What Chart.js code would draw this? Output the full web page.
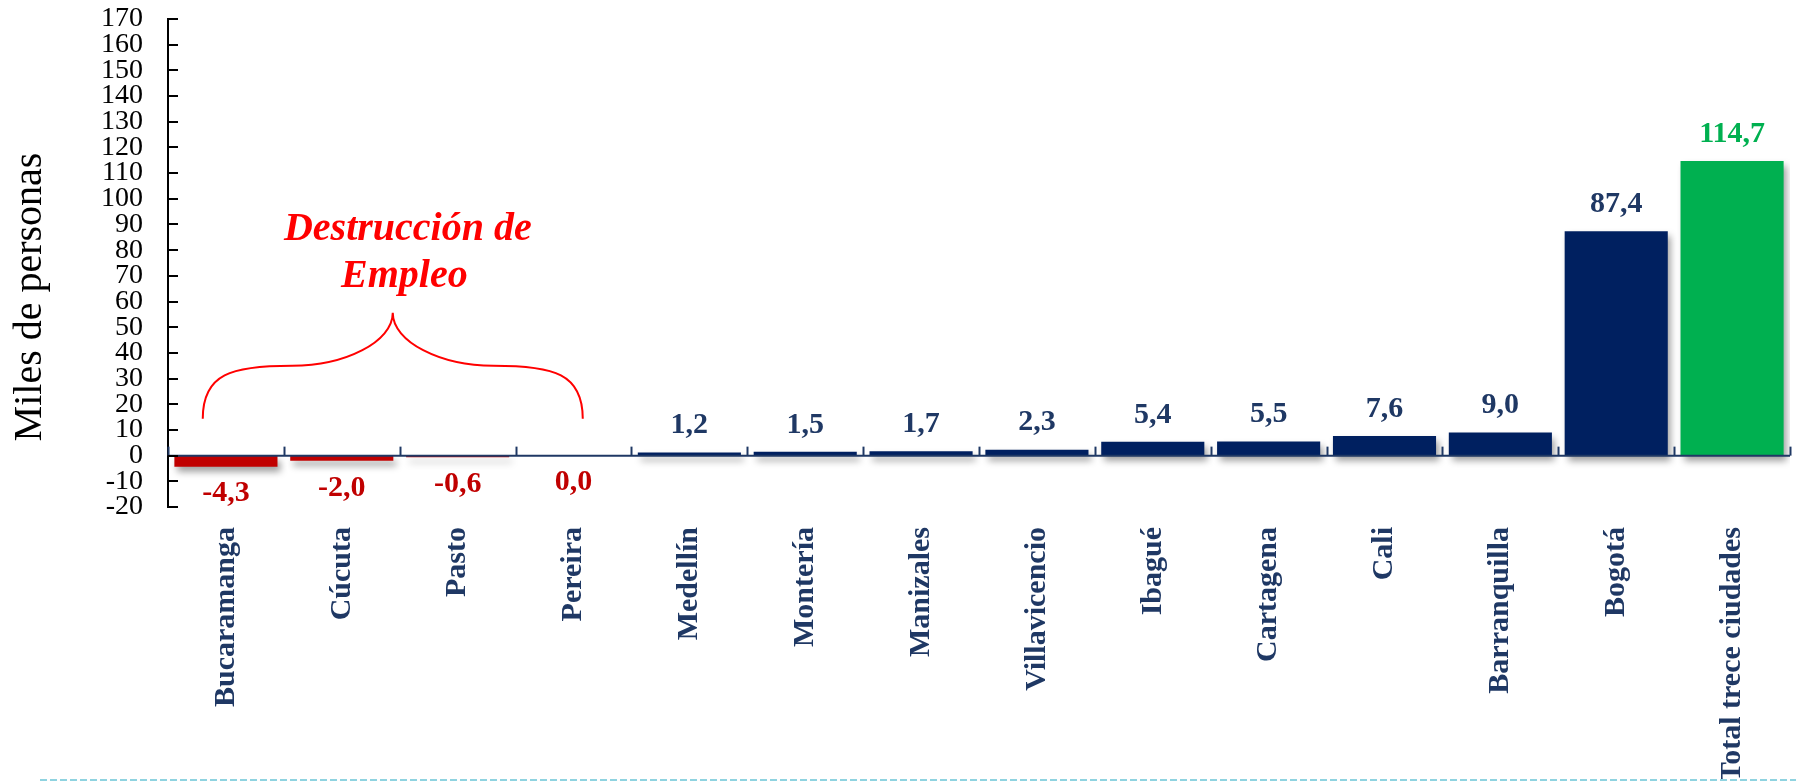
<!DOCTYPE html>
<html><head><meta charset="utf-8">
<script src="https://cdn.jsdelivr.net/npm/chart.js@4.4.1/dist/chart.umd.min.js"></script>
<style>html,body{margin:0;padding:0;background:#fff;overflow:hidden}</style>
</head><body>
<canvas id="c" width="1796" height="781"></canvas>
<script>
const categories = ['Bucaramanga','Cúcuta','Pasto','Pereira','Medellín','Montería','Manizales','Villavicencio','Ibagué','Cartagena','Cali','Barranquilla','Bogotá','Total trece ciudades'];
const values = [-4.3, -2.0, -0.6, 0.0, 1.2, 1.5, 1.7, 2.3, 5.4, 5.5, 7.6, 9.0, 87.4, 114.7];
const yTicks = [-20,-10,0,10,20,30,40,50,60,70,80,90,100,110,120,130,140,150,160,170];
const axisTitle = 'Miles de personas';
const annotationLines = ['Destrucción de', 'Empleo'];
const destructionFirst = 0, destructionLast = 3;

const NAVY = '#002060', NAVY_TXT = '#1F3864', RED = '#C00000', GREEN = '#00B050';
const SERIF = '"Liberation Serif", "Times New Roman", serif';
const isTotal = i => i === categories.length - 1;
const inDestruction = i => i >= destructionFirst && i <= destructionLast;
const barColor = i => isTotal(i) ? GREEN : (inDestruction(i) ? RED : NAVY);
const labelColor = i => isTotal(i) ? GREEN : (inDestruction(i) ? RED : NAVY_TXT);
const fmt = v => v.toFixed(1).replace('.', ',');

const deco = {
  id: 'deco',
  beforeDatasetsDraw(chart) {
    const ctx = chart.ctx;
    ctx.save();
    ctx.shadowColor = 'rgba(0,0,0,0.38)';
    ctx.shadowBlur = 7;
    ctx.shadowOffsetX = 3;
    ctx.shadowOffsetY = 5;
  },
  afterDatasetsDraw(chart) {
    const ctx = chart.ctx;
    ctx.restore();
    const xs = chart.scales.x, ys = chart.scales.y, ca = chart.chartArea;
    const catW = (ca.right - ca.left) / categories.length;
    const y0 = ys.getPixelForValue(0);

    ctx.save();
    ctx.strokeStyle = NAVY_TXT; ctx.lineWidth = 2;
    for (let i = 0; i <= categories.length; i++) {
      const x = Math.round(ca.left + i * catW) + 0.5;
      ctx.beginPath(); ctx.moveTo(x, y0); ctx.lineTo(x, y0 - 9); ctx.stroke();
    }
    ctx.beginPath(); ctx.moveTo(ca.left, y0); ctx.lineTo(ca.right, y0); ctx.stroke();

    ctx.strokeStyle = '#000'; ctx.lineWidth = 2;
    ys.ticks.forEach(t => {
      const y = Math.round(ys.getPixelForValue(t.value));
      ctx.beginPath(); ctx.moveTo(ca.left, y); ctx.lineTo(ca.left + 10, y); ctx.stroke();
    });

    const meta = chart.getDatasetMeta(0);
    ctx.font = 'bold 30px ' + SERIF;
    ctx.textAlign = 'center'; ctx.textBaseline = 'middle';
    meta.data.forEach((bar, i) => {
      const v = values[i];
      ctx.fillStyle = labelColor(i);
      const y = (v > 0) ? bar.y - 27 : Math.max(bar.y, y0) + 27;
      ctx.fillText(fmt(v), bar.x, y);
    });

    const xl = xs.getPixelForValue(destructionFirst) - 0.2 * catW;
    const xr = xs.getPixelForValue(destructionLast) + 0.08 * catW;
    const xm = (xl + xr) / 2, w = xm - xl;
    const yEnd = ys.getPixelForValue(14.4), yMid = ys.getPixelForValue(35), yPeak = ys.getPixelForValue(55.6);
    const h1 = yEnd - yMid, h2 = yMid - yPeak;
    ctx.strokeStyle = '#FF0000'; ctx.lineWidth = 2;
    ctx.beginPath();
    ctx.moveTo(xl, yEnd);
    ctx.bezierCurveTo(xl, yEnd - 0.85 * h1, xl + 0.15 * w, yMid, xl + 0.47 * w, yMid);
    ctx.bezierCurveTo(xl + 0.75 * w, yMid, xm, yMid - 0.45 * h2, xm, yPeak);
    ctx.bezierCurveTo(xm, yMid - 0.45 * h2, xr - 0.75 * w, yMid, xr - 0.47 * w, yMid);
    ctx.bezierCurveTo(xr - 0.15 * w, yMid, xr, yEnd - 0.85 * h1, xr, yEnd);
    ctx.stroke();

    ctx.fillStyle = '#FF0000';
    ctx.font = 'italic bold 40px ' + SERIF;
    ctx.fillText(annotationLines[0], xm + 0.13 * catW, ys.getPixelForValue(87.9));
    ctx.fillText(annotationLines[1], xm + 0.1 * catW, ys.getPixelForValue(69.6));

    ctx.fillStyle = '#000';
    ctx.font = '40px ' + SERIF;
    ctx.translate(30, (ca.top + ca.bottom) / 2 + 34);
    ctx.rotate(-Math.PI / 2);
    ctx.fillText(axisTitle, 0, 0);
    ctx.restore();
  },
  afterDraw(chart) {
    const ctx = chart.ctx;
    ctx.save();
    ctx.strokeStyle = '#8FD3E0'; ctx.lineWidth = 2; ctx.setLineDash([7, 3]);
    ctx.beginPath(); ctx.moveTo(40, chart.height - 1); ctx.lineTo(chart.width, chart.height - 1); ctx.stroke();
    ctx.restore();
  }
};

new Chart(document.getElementById('c'), {
  type: 'bar',
  data: {
    labels: categories,
    datasets: [{
      data: values,
      backgroundColor: values.map((v, i) => barColor(i)),
      barPercentage: 0.89,
      categoryPercentage: 1.0,
      borderWidth: 0
    }]
  },
  options: {
    responsive: false,
    animation: false,
    devicePixelRatio: 1,
    layout: { padding: { top: 19, right: 6, bottom: 0, left: 0 } },
    plugins: { legend: { display: false }, tooltip: { enabled: false } },
    scales: {
      x: {
        grid: { display: false },
        border: { display: false },
        ticks: {
          autoSkip: false, maxRotation: 90, minRotation: 90,
          padding: 12, labelOffset: 0,
          color: NAVY_TXT,
          font: { family: SERIF, size: 30, weight: 'bold' }
        },
        afterFit: s => { s.height = 274; }
      },
      y: {
        min: -20, max: 170,
        grid: { display: false },
        border: { display: true, color: '#000', width: 2 },
        ticks: {
          autoSkip: false, padding: 17, color: '#000',
          font: { family: SERIF, size: 28, lineHeight: 0.1 }
        },
        afterBuildTicks: s => { s.ticks = yTicks.map(v => ({ value: v })); },
        afterFit: s => { s.width = 168; }
      }
    }
  },
  plugins: [deco]
});
</script>
</body></html>
